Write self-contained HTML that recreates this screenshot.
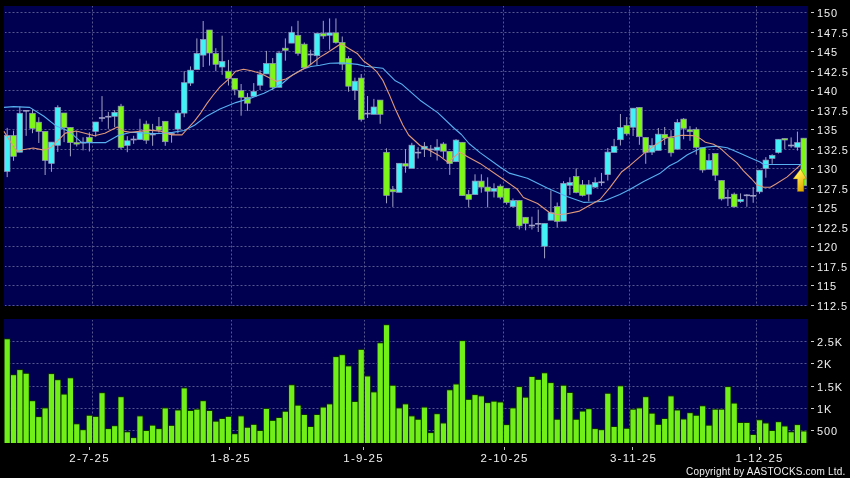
<!DOCTYPE html>
<html><head><meta charset="utf-8"><style>
html,body{margin:0;padding:0;background:#000;}
body{width:850px;height:478px;position:relative;overflow:hidden;font-family:"Liberation Sans",sans-serif;color:#f0f0f0;}
div{will-change:transform;}
svg{position:absolute;left:0;top:0;}
.yl{position:absolute;left:817px;font-size:11px;line-height:14px;white-space:nowrap;letter-spacing:0.85px;}
.xl{position:absolute;top:451px;width:80px;text-align:center;font-size:11.5px;line-height:14px;letter-spacing:1.2px;text-indent:1.2px;}
.cp{position:absolute;left:686px;top:465px;font-size:10px;line-height:14px;white-space:nowrap;letter-spacing:0.19px;}
</style></head><body>
<svg width="850" height="478" viewBox="0 0 850 478">
<rect x="4" y="6" width="804" height="300" fill="#000050"/>
<rect x="4" y="319" width="804" height="124" fill="#000050"/>
<line x1="5" y1="12.50" x2="808" y2="12.50" stroke="#56568f" stroke-width="1" stroke-dasharray="2 2" stroke-dashoffset="0.5"/>
<line x1="5" y1="32.50" x2="808" y2="32.50" stroke="#56568f" stroke-width="1" stroke-dasharray="2 2" stroke-dashoffset="0.5"/>
<line x1="5" y1="51.50" x2="808" y2="51.50" stroke="#56568f" stroke-width="1" stroke-dasharray="2 2" stroke-dashoffset="0.5"/>
<line x1="5" y1="71.50" x2="808" y2="71.50" stroke="#56568f" stroke-width="1" stroke-dasharray="2 2" stroke-dashoffset="0.5"/>
<line x1="5" y1="90.50" x2="808" y2="90.50" stroke="#56568f" stroke-width="1" stroke-dasharray="2 2" stroke-dashoffset="0.5"/>
<line x1="5" y1="110.50" x2="808" y2="110.50" stroke="#56568f" stroke-width="1" stroke-dasharray="2 2" stroke-dashoffset="0.5"/>
<line x1="5" y1="129.50" x2="808" y2="129.50" stroke="#56568f" stroke-width="1" stroke-dasharray="2 2" stroke-dashoffset="0.5"/>
<line x1="5" y1="149.50" x2="808" y2="149.50" stroke="#56568f" stroke-width="1" stroke-dasharray="2 2" stroke-dashoffset="0.5"/>
<line x1="5" y1="168.50" x2="808" y2="168.50" stroke="#56568f" stroke-width="1" stroke-dasharray="2 2" stroke-dashoffset="0.5"/>
<line x1="5" y1="188.50" x2="808" y2="188.50" stroke="#56568f" stroke-width="1" stroke-dasharray="2 2" stroke-dashoffset="0.5"/>
<line x1="5" y1="207.50" x2="808" y2="207.50" stroke="#56568f" stroke-width="1" stroke-dasharray="2 2" stroke-dashoffset="0.5"/>
<line x1="5" y1="227.50" x2="808" y2="227.50" stroke="#56568f" stroke-width="1" stroke-dasharray="2 2" stroke-dashoffset="0.5"/>
<line x1="5" y1="246.50" x2="808" y2="246.50" stroke="#56568f" stroke-width="1" stroke-dasharray="2 2" stroke-dashoffset="0.5"/>
<line x1="5" y1="266.50" x2="808" y2="266.50" stroke="#56568f" stroke-width="1" stroke-dasharray="2 2" stroke-dashoffset="0.5"/>
<line x1="5" y1="285.50" x2="808" y2="285.50" stroke="#56568f" stroke-width="1" stroke-dasharray="2 2" stroke-dashoffset="0.5"/>
<line x1="5" y1="305.50" x2="808" y2="305.50" stroke="#56568f" stroke-width="1" stroke-dasharray="2 2" stroke-dashoffset="0.5"/>
<line x1="92.5" y1="6" x2="92.5" y2="306" stroke="#56568f" stroke-width="1" stroke-dasharray="2 2" stroke-dashoffset="0.5"/>
<line x1="92.5" y1="320" x2="92.5" y2="443" stroke="#56568f" stroke-width="1" stroke-dasharray="2 2" stroke-dashoffset="0.5"/>
<line x1="231.5" y1="6" x2="231.5" y2="306" stroke="#56568f" stroke-width="1" stroke-dasharray="2 2" stroke-dashoffset="0.5"/>
<line x1="231.5" y1="320" x2="231.5" y2="443" stroke="#56568f" stroke-width="1" stroke-dasharray="2 2" stroke-dashoffset="0.5"/>
<line x1="364.5" y1="6" x2="364.5" y2="306" stroke="#56568f" stroke-width="1" stroke-dasharray="2 2" stroke-dashoffset="0.5"/>
<line x1="364.5" y1="320" x2="364.5" y2="443" stroke="#56568f" stroke-width="1" stroke-dasharray="2 2" stroke-dashoffset="0.5"/>
<line x1="503.5" y1="6" x2="503.5" y2="306" stroke="#56568f" stroke-width="1" stroke-dasharray="2 2" stroke-dashoffset="0.5"/>
<line x1="503.5" y1="320" x2="503.5" y2="443" stroke="#56568f" stroke-width="1" stroke-dasharray="2 2" stroke-dashoffset="0.5"/>
<line x1="629.5" y1="6" x2="629.5" y2="306" stroke="#56568f" stroke-width="1" stroke-dasharray="2 2" stroke-dashoffset="0.5"/>
<line x1="629.5" y1="320" x2="629.5" y2="443" stroke="#56568f" stroke-width="1" stroke-dasharray="2 2" stroke-dashoffset="0.5"/>
<line x1="756.5" y1="6" x2="756.5" y2="306" stroke="#56568f" stroke-width="1" stroke-dasharray="2 2" stroke-dashoffset="0.5"/>
<line x1="756.5" y1="320" x2="756.5" y2="443" stroke="#56568f" stroke-width="1" stroke-dasharray="2 2" stroke-dashoffset="0.5"/>
<line x1="5" y1="341.50" x2="808" y2="341.50" stroke="#56568f" stroke-width="1" stroke-dasharray="2 2" stroke-dashoffset="0.5"/>
<line x1="5" y1="363.50" x2="808" y2="363.50" stroke="#56568f" stroke-width="1" stroke-dasharray="2 2" stroke-dashoffset="0.5"/>
<line x1="5" y1="386.50" x2="808" y2="386.50" stroke="#56568f" stroke-width="1" stroke-dasharray="2 2" stroke-dashoffset="0.5"/>
<line x1="5" y1="408.50" x2="808" y2="408.50" stroke="#56568f" stroke-width="1" stroke-dasharray="2 2" stroke-dashoffset="0.5"/>
<line x1="5" y1="430.50" x2="808" y2="430.50" stroke="#56568f" stroke-width="1" stroke-dasharray="2 2" stroke-dashoffset="0.5"/>
<rect x="4.04" y="338.30" width="6.32" height="104.70" fill="#0c2a04"/>
<rect x="4.60" y="339.30" width="5.2" height="103.70" fill="#70f018"/>
<rect x="10.36" y="374.20" width="6.32" height="68.80" fill="#0c2a04"/>
<rect x="10.92" y="375.20" width="5.2" height="67.80" fill="#70f018"/>
<rect x="16.68" y="369.10" width="6.32" height="73.90" fill="#0c2a04"/>
<rect x="17.24" y="370.10" width="5.2" height="72.90" fill="#70f018"/>
<rect x="23.01" y="372.80" width="6.32" height="70.20" fill="#0c2a04"/>
<rect x="23.57" y="373.80" width="5.2" height="69.20" fill="#70f018"/>
<rect x="29.33" y="400.20" width="6.32" height="42.80" fill="#0c2a04"/>
<rect x="29.89" y="401.20" width="5.2" height="41.80" fill="#70f018"/>
<rect x="35.65" y="416.10" width="6.32" height="26.90" fill="#0c2a04"/>
<rect x="36.21" y="417.10" width="5.2" height="25.90" fill="#70f018"/>
<rect x="41.97" y="407.40" width="6.32" height="35.60" fill="#0c2a04"/>
<rect x="42.53" y="408.40" width="5.2" height="34.60" fill="#70f018"/>
<rect x="48.29" y="373.10" width="6.32" height="69.90" fill="#0c2a04"/>
<rect x="48.85" y="374.10" width="5.2" height="68.90" fill="#70f018"/>
<rect x="54.62" y="379.20" width="6.32" height="63.80" fill="#0c2a04"/>
<rect x="55.18" y="380.20" width="5.2" height="62.80" fill="#70f018"/>
<rect x="60.94" y="393.60" width="6.32" height="49.40" fill="#0c2a04"/>
<rect x="61.50" y="394.60" width="5.2" height="48.40" fill="#70f018"/>
<rect x="67.26" y="377.30" width="6.32" height="65.70" fill="#0c2a04"/>
<rect x="67.82" y="378.30" width="5.2" height="64.70" fill="#70f018"/>
<rect x="73.58" y="423.30" width="6.32" height="19.70" fill="#0c2a04"/>
<rect x="74.14" y="424.30" width="5.2" height="18.70" fill="#70f018"/>
<rect x="79.90" y="429.20" width="6.32" height="13.80" fill="#0c2a04"/>
<rect x="80.46" y="430.20" width="5.2" height="12.80" fill="#70f018"/>
<rect x="86.23" y="414.80" width="6.32" height="28.20" fill="#0c2a04"/>
<rect x="86.79" y="415.80" width="5.2" height="27.20" fill="#70f018"/>
<rect x="92.55" y="415.90" width="6.32" height="27.10" fill="#0c2a04"/>
<rect x="93.11" y="416.90" width="5.2" height="26.10" fill="#70f018"/>
<rect x="98.87" y="392.20" width="6.32" height="50.80" fill="#0c2a04"/>
<rect x="99.43" y="393.20" width="5.2" height="49.80" fill="#70f018"/>
<rect x="105.19" y="428.10" width="6.32" height="14.90" fill="#0c2a04"/>
<rect x="105.75" y="429.10" width="5.2" height="13.90" fill="#70f018"/>
<rect x="111.51" y="425.20" width="6.32" height="17.80" fill="#0c2a04"/>
<rect x="112.07" y="426.20" width="5.2" height="16.80" fill="#70f018"/>
<rect x="117.84" y="396.20" width="6.32" height="46.80" fill="#0c2a04"/>
<rect x="118.40" y="397.20" width="5.2" height="45.80" fill="#70f018"/>
<rect x="124.16" y="431.30" width="6.32" height="11.70" fill="#0c2a04"/>
<rect x="124.72" y="432.30" width="5.2" height="10.70" fill="#70f018"/>
<rect x="130.48" y="437.10" width="6.32" height="5.90" fill="#0c2a04"/>
<rect x="131.04" y="438.10" width="5.2" height="4.90" fill="#70f018"/>
<rect x="136.80" y="415.40" width="6.32" height="27.60" fill="#0c2a04"/>
<rect x="137.36" y="416.40" width="5.2" height="26.60" fill="#70f018"/>
<rect x="143.12" y="430.00" width="6.32" height="13.00" fill="#0c2a04"/>
<rect x="143.68" y="431.00" width="5.2" height="12.00" fill="#70f018"/>
<rect x="149.45" y="424.70" width="6.32" height="18.30" fill="#0c2a04"/>
<rect x="150.01" y="425.70" width="5.2" height="17.30" fill="#70f018"/>
<rect x="155.77" y="428.10" width="6.32" height="14.90" fill="#0c2a04"/>
<rect x="156.33" y="429.10" width="5.2" height="13.90" fill="#70f018"/>
<rect x="162.09" y="407.40" width="6.32" height="35.60" fill="#0c2a04"/>
<rect x="162.65" y="408.40" width="5.2" height="34.60" fill="#70f018"/>
<rect x="168.41" y="424.90" width="6.32" height="18.10" fill="#0c2a04"/>
<rect x="168.97" y="425.90" width="5.2" height="17.10" fill="#70f018"/>
<rect x="174.73" y="409.50" width="6.32" height="33.50" fill="#0c2a04"/>
<rect x="175.29" y="410.50" width="5.2" height="32.50" fill="#70f018"/>
<rect x="181.06" y="387.40" width="6.32" height="55.60" fill="#0c2a04"/>
<rect x="181.62" y="388.40" width="5.2" height="54.60" fill="#70f018"/>
<rect x="187.38" y="410.00" width="6.32" height="33.00" fill="#0c2a04"/>
<rect x="187.94" y="411.00" width="5.2" height="32.00" fill="#70f018"/>
<rect x="193.70" y="408.70" width="6.32" height="34.30" fill="#0c2a04"/>
<rect x="194.26" y="409.70" width="5.2" height="33.30" fill="#70f018"/>
<rect x="200.02" y="400.20" width="6.32" height="42.80" fill="#0c2a04"/>
<rect x="200.58" y="401.20" width="5.2" height="41.80" fill="#70f018"/>
<rect x="206.34" y="410.00" width="6.32" height="33.00" fill="#0c2a04"/>
<rect x="206.90" y="411.00" width="5.2" height="32.00" fill="#70f018"/>
<rect x="212.67" y="420.70" width="6.32" height="22.30" fill="#0c2a04"/>
<rect x="213.23" y="421.70" width="5.2" height="21.30" fill="#70f018"/>
<rect x="218.99" y="418.00" width="6.32" height="25.00" fill="#0c2a04"/>
<rect x="219.55" y="419.00" width="5.2" height="24.00" fill="#70f018"/>
<rect x="225.31" y="415.90" width="6.32" height="27.10" fill="#0c2a04"/>
<rect x="225.87" y="416.90" width="5.2" height="26.10" fill="#70f018"/>
<rect x="231.63" y="433.20" width="6.32" height="9.80" fill="#0c2a04"/>
<rect x="232.19" y="434.20" width="5.2" height="8.80" fill="#70f018"/>
<rect x="237.95" y="415.40" width="6.32" height="27.60" fill="#0c2a04"/>
<rect x="238.51" y="416.40" width="5.2" height="26.60" fill="#70f018"/>
<rect x="244.28" y="426.80" width="6.32" height="16.20" fill="#0c2a04"/>
<rect x="244.84" y="427.80" width="5.2" height="15.20" fill="#70f018"/>
<rect x="250.60" y="423.90" width="6.32" height="19.10" fill="#0c2a04"/>
<rect x="251.16" y="424.90" width="5.2" height="18.10" fill="#70f018"/>
<rect x="256.92" y="430.00" width="6.32" height="13.00" fill="#0c2a04"/>
<rect x="257.48" y="431.00" width="5.2" height="12.00" fill="#70f018"/>
<rect x="263.24" y="407.90" width="6.32" height="35.10" fill="#0c2a04"/>
<rect x="263.80" y="408.90" width="5.2" height="34.10" fill="#70f018"/>
<rect x="269.56" y="419.90" width="6.32" height="23.10" fill="#0c2a04"/>
<rect x="270.12" y="420.90" width="5.2" height="22.10" fill="#70f018"/>
<rect x="275.89" y="417.00" width="6.32" height="26.00" fill="#0c2a04"/>
<rect x="276.45" y="418.00" width="5.2" height="25.00" fill="#70f018"/>
<rect x="282.21" y="410.80" width="6.32" height="32.20" fill="#0c2a04"/>
<rect x="282.77" y="411.80" width="5.2" height="31.20" fill="#70f018"/>
<rect x="288.53" y="384.30" width="6.32" height="58.70" fill="#0c2a04"/>
<rect x="289.09" y="385.30" width="5.2" height="57.70" fill="#70f018"/>
<rect x="294.85" y="404.70" width="6.32" height="38.30" fill="#0c2a04"/>
<rect x="295.41" y="405.70" width="5.2" height="37.30" fill="#70f018"/>
<rect x="301.17" y="414.00" width="6.32" height="29.00" fill="#0c2a04"/>
<rect x="301.73" y="415.00" width="5.2" height="28.00" fill="#70f018"/>
<rect x="307.50" y="426.00" width="6.32" height="17.00" fill="#0c2a04"/>
<rect x="308.06" y="427.00" width="5.2" height="16.00" fill="#70f018"/>
<rect x="313.82" y="414.00" width="6.32" height="29.00" fill="#0c2a04"/>
<rect x="314.38" y="415.00" width="5.2" height="28.00" fill="#70f018"/>
<rect x="320.14" y="406.60" width="6.32" height="36.40" fill="#0c2a04"/>
<rect x="320.70" y="407.60" width="5.2" height="35.40" fill="#70f018"/>
<rect x="326.46" y="403.40" width="6.32" height="39.60" fill="#0c2a04"/>
<rect x="327.02" y="404.40" width="5.2" height="38.60" fill="#70f018"/>
<rect x="332.78" y="356.10" width="6.32" height="86.90" fill="#0c2a04"/>
<rect x="333.34" y="357.10" width="5.2" height="85.90" fill="#70f018"/>
<rect x="339.11" y="354.20" width="6.32" height="88.80" fill="#0c2a04"/>
<rect x="339.67" y="355.20" width="5.2" height="87.80" fill="#70f018"/>
<rect x="345.43" y="365.40" width="6.32" height="77.60" fill="#0c2a04"/>
<rect x="345.99" y="366.40" width="5.2" height="76.60" fill="#70f018"/>
<rect x="351.75" y="401.00" width="6.32" height="42.00" fill="#0c2a04"/>
<rect x="352.31" y="402.00" width="5.2" height="41.00" fill="#70f018"/>
<rect x="358.07" y="348.90" width="6.32" height="94.10" fill="#0c2a04"/>
<rect x="358.63" y="349.90" width="5.2" height="93.10" fill="#70f018"/>
<rect x="364.39" y="375.50" width="6.32" height="67.50" fill="#0c2a04"/>
<rect x="364.95" y="376.50" width="5.2" height="66.50" fill="#70f018"/>
<rect x="370.72" y="391.40" width="6.32" height="51.60" fill="#0c2a04"/>
<rect x="371.28" y="392.40" width="5.2" height="50.60" fill="#70f018"/>
<rect x="377.04" y="342.30" width="6.32" height="100.70" fill="#0c2a04"/>
<rect x="377.60" y="343.30" width="5.2" height="99.70" fill="#70f018"/>
<rect x="383.36" y="324.20" width="6.32" height="118.80" fill="#0c2a04"/>
<rect x="383.92" y="325.20" width="5.2" height="117.80" fill="#70f018"/>
<rect x="389.68" y="384.80" width="6.32" height="58.20" fill="#0c2a04"/>
<rect x="390.24" y="385.80" width="5.2" height="57.20" fill="#70f018"/>
<rect x="396.00" y="407.40" width="6.32" height="35.60" fill="#0c2a04"/>
<rect x="396.56" y="408.40" width="5.2" height="34.60" fill="#70f018"/>
<rect x="402.33" y="403.40" width="6.32" height="39.60" fill="#0c2a04"/>
<rect x="402.89" y="404.40" width="5.2" height="38.60" fill="#70f018"/>
<rect x="408.65" y="415.40" width="6.32" height="27.60" fill="#0c2a04"/>
<rect x="409.21" y="416.40" width="5.2" height="26.60" fill="#70f018"/>
<rect x="414.97" y="418.80" width="6.32" height="24.20" fill="#0c2a04"/>
<rect x="415.53" y="419.80" width="5.2" height="23.20" fill="#70f018"/>
<rect x="421.29" y="406.60" width="6.32" height="36.40" fill="#0c2a04"/>
<rect x="421.85" y="407.60" width="5.2" height="35.40" fill="#70f018"/>
<rect x="427.61" y="432.10" width="6.32" height="10.90" fill="#0c2a04"/>
<rect x="428.17" y="433.10" width="5.2" height="9.90" fill="#70f018"/>
<rect x="433.94" y="413.20" width="6.32" height="29.80" fill="#0c2a04"/>
<rect x="434.50" y="414.20" width="5.2" height="28.80" fill="#70f018"/>
<rect x="440.26" y="422.50" width="6.32" height="20.50" fill="#0c2a04"/>
<rect x="440.82" y="423.50" width="5.2" height="19.50" fill="#70f018"/>
<rect x="446.58" y="389.30" width="6.32" height="53.70" fill="#0c2a04"/>
<rect x="447.14" y="390.30" width="5.2" height="52.70" fill="#70f018"/>
<rect x="452.90" y="383.50" width="6.32" height="59.50" fill="#0c2a04"/>
<rect x="453.46" y="384.50" width="5.2" height="58.50" fill="#70f018"/>
<rect x="459.22" y="340.10" width="6.32" height="102.90" fill="#0c2a04"/>
<rect x="459.78" y="341.10" width="5.2" height="101.90" fill="#70f018"/>
<rect x="465.55" y="398.90" width="6.32" height="44.10" fill="#0c2a04"/>
<rect x="466.11" y="399.90" width="5.2" height="43.10" fill="#70f018"/>
<rect x="471.87" y="394.10" width="6.32" height="48.90" fill="#0c2a04"/>
<rect x="472.43" y="395.10" width="5.2" height="47.90" fill="#70f018"/>
<rect x="478.19" y="395.40" width="6.32" height="47.60" fill="#0c2a04"/>
<rect x="478.75" y="396.40" width="5.2" height="46.60" fill="#70f018"/>
<rect x="484.51" y="402.10" width="6.32" height="40.90" fill="#0c2a04"/>
<rect x="485.07" y="403.10" width="5.2" height="39.90" fill="#70f018"/>
<rect x="490.83" y="400.70" width="6.32" height="42.30" fill="#0c2a04"/>
<rect x="491.39" y="401.70" width="5.2" height="41.30" fill="#70f018"/>
<rect x="497.16" y="401.50" width="6.32" height="41.50" fill="#0c2a04"/>
<rect x="497.72" y="402.50" width="5.2" height="40.50" fill="#70f018"/>
<rect x="503.48" y="424.10" width="6.32" height="18.90" fill="#0c2a04"/>
<rect x="504.04" y="425.10" width="5.2" height="17.90" fill="#70f018"/>
<rect x="509.80" y="407.40" width="6.32" height="35.60" fill="#0c2a04"/>
<rect x="510.36" y="408.40" width="5.2" height="34.60" fill="#70f018"/>
<rect x="516.12" y="386.10" width="6.32" height="56.90" fill="#0c2a04"/>
<rect x="516.68" y="387.10" width="5.2" height="55.90" fill="#70f018"/>
<rect x="522.44" y="396.70" width="6.32" height="46.30" fill="#0c2a04"/>
<rect x="523.00" y="397.70" width="5.2" height="45.30" fill="#70f018"/>
<rect x="528.77" y="376.00" width="6.32" height="67.00" fill="#0c2a04"/>
<rect x="529.33" y="377.00" width="5.2" height="66.00" fill="#70f018"/>
<rect x="535.09" y="378.90" width="6.32" height="64.10" fill="#0c2a04"/>
<rect x="535.65" y="379.90" width="5.2" height="63.10" fill="#70f018"/>
<rect x="541.41" y="372.30" width="6.32" height="70.70" fill="#0c2a04"/>
<rect x="541.97" y="373.30" width="5.2" height="69.70" fill="#70f018"/>
<rect x="547.73" y="382.10" width="6.32" height="60.90" fill="#0c2a04"/>
<rect x="548.29" y="383.10" width="5.2" height="59.90" fill="#70f018"/>
<rect x="554.05" y="418.80" width="6.32" height="24.20" fill="#0c2a04"/>
<rect x="554.61" y="419.80" width="5.2" height="23.20" fill="#70f018"/>
<rect x="560.38" y="384.80" width="6.32" height="58.20" fill="#0c2a04"/>
<rect x="560.94" y="385.80" width="5.2" height="57.20" fill="#70f018"/>
<rect x="566.70" y="392.00" width="6.32" height="51.00" fill="#0c2a04"/>
<rect x="567.26" y="393.00" width="5.2" height="50.00" fill="#70f018"/>
<rect x="573.02" y="418.80" width="6.32" height="24.20" fill="#0c2a04"/>
<rect x="573.58" y="419.80" width="5.2" height="23.20" fill="#70f018"/>
<rect x="579.34" y="410.60" width="6.32" height="32.40" fill="#0c2a04"/>
<rect x="579.90" y="411.60" width="5.2" height="31.40" fill="#70f018"/>
<rect x="585.66" y="408.20" width="6.32" height="34.80" fill="#0c2a04"/>
<rect x="586.22" y="409.20" width="5.2" height="33.80" fill="#70f018"/>
<rect x="591.99" y="428.10" width="6.32" height="14.90" fill="#0c2a04"/>
<rect x="592.55" y="429.10" width="5.2" height="13.90" fill="#70f018"/>
<rect x="598.31" y="429.20" width="6.32" height="13.80" fill="#0c2a04"/>
<rect x="598.87" y="430.20" width="5.2" height="12.80" fill="#70f018"/>
<rect x="604.63" y="392.80" width="6.32" height="50.20" fill="#0c2a04"/>
<rect x="605.19" y="393.80" width="5.2" height="49.20" fill="#70f018"/>
<rect x="610.95" y="426.00" width="6.32" height="17.00" fill="#0c2a04"/>
<rect x="611.51" y="427.00" width="5.2" height="16.00" fill="#70f018"/>
<rect x="617.27" y="385.30" width="6.32" height="57.70" fill="#0c2a04"/>
<rect x="617.83" y="386.30" width="5.2" height="56.70" fill="#70f018"/>
<rect x="623.60" y="427.80" width="6.32" height="15.20" fill="#0c2a04"/>
<rect x="624.16" y="428.80" width="5.2" height="14.20" fill="#70f018"/>
<rect x="629.92" y="408.70" width="6.32" height="34.30" fill="#0c2a04"/>
<rect x="630.48" y="409.70" width="5.2" height="33.30" fill="#70f018"/>
<rect x="636.24" y="407.40" width="6.32" height="35.60" fill="#0c2a04"/>
<rect x="636.80" y="408.40" width="5.2" height="34.60" fill="#70f018"/>
<rect x="642.56" y="396.20" width="6.32" height="46.80" fill="#0c2a04"/>
<rect x="643.12" y="397.20" width="5.2" height="45.80" fill="#70f018"/>
<rect x="648.88" y="412.70" width="6.32" height="30.30" fill="#0c2a04"/>
<rect x="649.44" y="413.70" width="5.2" height="29.30" fill="#70f018"/>
<rect x="655.21" y="423.90" width="6.32" height="19.10" fill="#0c2a04"/>
<rect x="655.77" y="424.90" width="5.2" height="18.10" fill="#70f018"/>
<rect x="661.53" y="418.00" width="6.32" height="25.00" fill="#0c2a04"/>
<rect x="662.09" y="419.00" width="5.2" height="24.00" fill="#70f018"/>
<rect x="667.85" y="395.40" width="6.32" height="47.60" fill="#0c2a04"/>
<rect x="668.41" y="396.40" width="5.2" height="46.60" fill="#70f018"/>
<rect x="674.17" y="409.50" width="6.32" height="33.50" fill="#0c2a04"/>
<rect x="674.73" y="410.50" width="5.2" height="32.50" fill="#70f018"/>
<rect x="680.49" y="418.50" width="6.32" height="24.50" fill="#0c2a04"/>
<rect x="681.05" y="419.50" width="5.2" height="23.50" fill="#70f018"/>
<rect x="686.82" y="412.20" width="6.32" height="30.80" fill="#0c2a04"/>
<rect x="687.38" y="413.20" width="5.2" height="29.80" fill="#70f018"/>
<rect x="693.14" y="414.80" width="6.32" height="28.20" fill="#0c2a04"/>
<rect x="693.70" y="415.80" width="5.2" height="27.20" fill="#70f018"/>
<rect x="699.46" y="405.30" width="6.32" height="37.70" fill="#0c2a04"/>
<rect x="700.02" y="406.30" width="5.2" height="36.70" fill="#70f018"/>
<rect x="705.78" y="424.70" width="6.32" height="18.30" fill="#0c2a04"/>
<rect x="706.34" y="425.70" width="5.2" height="17.30" fill="#70f018"/>
<rect x="712.10" y="408.70" width="6.32" height="34.30" fill="#0c2a04"/>
<rect x="712.66" y="409.70" width="5.2" height="33.30" fill="#70f018"/>
<rect x="718.43" y="408.70" width="6.32" height="34.30" fill="#0c2a04"/>
<rect x="718.99" y="409.70" width="5.2" height="33.30" fill="#70f018"/>
<rect x="724.75" y="386.10" width="6.32" height="56.90" fill="#0c2a04"/>
<rect x="725.31" y="387.10" width="5.2" height="55.90" fill="#70f018"/>
<rect x="731.07" y="402.60" width="6.32" height="40.40" fill="#0c2a04"/>
<rect x="731.63" y="403.60" width="5.2" height="39.40" fill="#70f018"/>
<rect x="737.39" y="422.00" width="6.32" height="21.00" fill="#0c2a04"/>
<rect x="737.95" y="423.00" width="5.2" height="20.00" fill="#70f018"/>
<rect x="743.71" y="422.00" width="6.32" height="21.00" fill="#0c2a04"/>
<rect x="744.27" y="423.00" width="5.2" height="20.00" fill="#70f018"/>
<rect x="750.04" y="434.00" width="6.32" height="9.00" fill="#0c2a04"/>
<rect x="750.60" y="435.00" width="5.2" height="8.00" fill="#70f018"/>
<rect x="756.36" y="419.30" width="6.32" height="23.70" fill="#0c2a04"/>
<rect x="756.92" y="420.30" width="5.2" height="22.70" fill="#70f018"/>
<rect x="762.68" y="422.50" width="6.32" height="20.50" fill="#0c2a04"/>
<rect x="763.24" y="423.50" width="5.2" height="19.50" fill="#70f018"/>
<rect x="769.00" y="430.00" width="6.32" height="13.00" fill="#0c2a04"/>
<rect x="769.56" y="431.00" width="5.2" height="12.00" fill="#70f018"/>
<rect x="775.32" y="421.20" width="6.32" height="21.80" fill="#0c2a04"/>
<rect x="775.88" y="422.20" width="5.2" height="20.80" fill="#70f018"/>
<rect x="781.65" y="425.50" width="6.32" height="17.50" fill="#0c2a04"/>
<rect x="782.21" y="426.50" width="5.2" height="16.50" fill="#70f018"/>
<rect x="787.97" y="431.30" width="6.32" height="11.70" fill="#0c2a04"/>
<rect x="788.53" y="432.30" width="5.2" height="10.70" fill="#70f018"/>
<rect x="794.29" y="424.10" width="6.32" height="18.90" fill="#0c2a04"/>
<rect x="794.85" y="425.10" width="5.2" height="17.90" fill="#70f018"/>
<rect x="800.61" y="430.50" width="6.32" height="12.50" fill="#0c2a04"/>
<rect x="801.17" y="431.50" width="5.2" height="11.50" fill="#70f018"/>
<line x1="7.20" y1="127.90" x2="7.20" y2="177.10" stroke="#a0a0c4" stroke-width="1"/>
<rect x="4.40" y="135.50" width="5.6" height="35.90" fill="#40f2f6" stroke="#9494bc" stroke-width="0.7"/>
<line x1="13.52" y1="130.60" x2="13.52" y2="160.80" stroke="#a0a0c4" stroke-width="1"/>
<rect x="10.72" y="135.50" width="5.6" height="20.80" fill="#7cf814" stroke="#9494bc" stroke-width="0.7"/>
<line x1="19.84" y1="106.60" x2="19.84" y2="152.20" stroke="#a0a0c4" stroke-width="1"/>
<rect x="17.04" y="113.30" width="5.6" height="38.90" fill="#40f2f6" stroke="#9494bc" stroke-width="0.7"/>
<line x1="26.17" y1="110.10" x2="26.17" y2="135.90" stroke="#a0a0c4" stroke-width="1"/>
<line x1="23.07" y1="110.80" x2="29.27" y2="110.80" stroke="#a0a0c4" stroke-width="1.6"/>
<line x1="32.49" y1="109.20" x2="32.49" y2="133.20" stroke="#a0a0c4" stroke-width="1"/>
<rect x="29.69" y="113.30" width="5.6" height="15.10" fill="#7cf814" stroke="#9494bc" stroke-width="0.7"/>
<line x1="38.81" y1="117.20" x2="38.81" y2="143.00" stroke="#a0a0c4" stroke-width="1"/>
<rect x="36.01" y="122.20" width="5.6" height="9.20" fill="#7cf814" stroke="#9494bc" stroke-width="0.7"/>
<line x1="45.13" y1="131.40" x2="45.13" y2="175.00" stroke="#a0a0c4" stroke-width="1"/>
<rect x="42.33" y="131.40" width="5.6" height="29.00" fill="#7cf814" stroke="#9494bc" stroke-width="0.7"/>
<line x1="51.45" y1="142.10" x2="51.45" y2="171.80" stroke="#a0a0c4" stroke-width="1"/>
<rect x="48.65" y="142.10" width="5.6" height="21.30" fill="#40f2f6" stroke="#9494bc" stroke-width="0.7"/>
<line x1="57.78" y1="105.30" x2="57.78" y2="151.90" stroke="#a0a0c4" stroke-width="1"/>
<rect x="54.98" y="107.40" width="5.6" height="37.90" fill="#40f2f6" stroke="#9494bc" stroke-width="0.7"/>
<line x1="64.10" y1="113.00" x2="64.10" y2="142.10" stroke="#a0a0c4" stroke-width="1"/>
<rect x="61.30" y="113.00" width="5.6" height="14.70" fill="#7cf814" stroke="#9494bc" stroke-width="0.7"/>
<line x1="70.42" y1="127.50" x2="70.42" y2="156.30" stroke="#a0a0c4" stroke-width="1"/>
<rect x="67.62" y="127.50" width="5.6" height="15.10" fill="#7cf814" stroke="#9494bc" stroke-width="0.7"/>
<line x1="76.74" y1="131.00" x2="76.74" y2="146.50" stroke="#a0a0c4" stroke-width="1"/>
<rect x="73.94" y="142.60" width="5.6" height="1.50" fill="#7cf814" stroke="#9494bc" stroke-width="0.7"/>
<line x1="83.06" y1="137.30" x2="83.06" y2="150.40" stroke="#a0a0c4" stroke-width="1"/>
<line x1="79.96" y1="142.60" x2="86.16" y2="142.60" stroke="#a0a0c4" stroke-width="1.6"/>
<line x1="89.39" y1="132.30" x2="89.39" y2="151.50" stroke="#a0a0c4" stroke-width="1"/>
<rect x="86.59" y="137.30" width="5.6" height="4.80" fill="#7cf814" stroke="#9494bc" stroke-width="0.7"/>
<line x1="95.71" y1="122.00" x2="95.71" y2="136.80" stroke="#a0a0c4" stroke-width="1"/>
<rect x="92.91" y="122.00" width="5.6" height="9.40" fill="#40f2f6" stroke="#9494bc" stroke-width="0.7"/>
<line x1="102.03" y1="96.10" x2="102.03" y2="121.70" stroke="#a0a0c4" stroke-width="1"/>
<line x1="98.93" y1="118.00" x2="105.13" y2="118.00" stroke="#a0a0c4" stroke-width="1.6"/>
<line x1="108.35" y1="111.90" x2="108.35" y2="128.80" stroke="#a0a0c4" stroke-width="1"/>
<line x1="105.25" y1="116.70" x2="111.45" y2="116.70" stroke="#a0a0c4" stroke-width="1.6"/>
<line x1="114.67" y1="110.10" x2="114.67" y2="127.00" stroke="#a0a0c4" stroke-width="1"/>
<rect x="111.87" y="112.40" width="5.6" height="3.90" fill="#40f2f6" stroke="#9494bc" stroke-width="0.7"/>
<line x1="121.00" y1="103.90" x2="121.00" y2="149.20" stroke="#a0a0c4" stroke-width="1"/>
<rect x="118.20" y="106.20" width="5.6" height="41.20" fill="#7cf814" stroke="#9494bc" stroke-width="0.7"/>
<line x1="127.32" y1="136.20" x2="127.32" y2="152.20" stroke="#a0a0c4" stroke-width="1"/>
<rect x="124.52" y="140.80" width="5.6" height="4.60" fill="#40f2f6" stroke="#9494bc" stroke-width="0.7"/>
<line x1="133.64" y1="135.80" x2="133.64" y2="143.90" stroke="#a0a0c4" stroke-width="1"/>
<line x1="130.54" y1="139.50" x2="136.74" y2="139.50" stroke="#a0a0c4" stroke-width="1.6"/>
<line x1="139.96" y1="118.80" x2="139.96" y2="139.50" stroke="#a0a0c4" stroke-width="1"/>
<rect x="137.16" y="132.00" width="5.6" height="7.50" fill="#40f2f6" stroke="#9494bc" stroke-width="0.7"/>
<line x1="146.28" y1="120.70" x2="146.28" y2="143.90" stroke="#a0a0c4" stroke-width="1"/>
<rect x="143.48" y="124.10" width="5.6" height="16.10" fill="#7cf814" stroke="#9494bc" stroke-width="0.7"/>
<line x1="152.61" y1="123.90" x2="152.61" y2="145.80" stroke="#a0a0c4" stroke-width="1"/>
<line x1="149.51" y1="134.50" x2="155.71" y2="134.50" stroke="#a0a0c4" stroke-width="1.6"/>
<line x1="158.93" y1="117.00" x2="158.93" y2="132.60" stroke="#a0a0c4" stroke-width="1"/>
<rect x="156.13" y="126.40" width="5.6" height="3.70" fill="#7cf814" stroke="#9494bc" stroke-width="0.7"/>
<line x1="165.25" y1="121.30" x2="165.25" y2="145.80" stroke="#a0a0c4" stroke-width="1"/>
<rect x="162.45" y="121.30" width="5.6" height="20.40" fill="#7cf814" stroke="#9494bc" stroke-width="0.7"/>
<line x1="171.57" y1="132.60" x2="171.57" y2="142.70" stroke="#a0a0c4" stroke-width="1"/>
<line x1="168.47" y1="133.90" x2="174.67" y2="133.90" stroke="#a0a0c4" stroke-width="1.6"/>
<line x1="177.89" y1="110.10" x2="177.89" y2="133.30" stroke="#a0a0c4" stroke-width="1"/>
<rect x="175.09" y="113.10" width="5.6" height="16.00" fill="#40f2f6" stroke="#9494bc" stroke-width="0.7"/>
<line x1="184.22" y1="71.20" x2="184.22" y2="117.20" stroke="#a0a0c4" stroke-width="1"/>
<rect x="181.42" y="82.70" width="5.6" height="30.40" fill="#40f2f6" stroke="#9494bc" stroke-width="0.7"/>
<line x1="190.54" y1="66.40" x2="190.54" y2="85.90" stroke="#a0a0c4" stroke-width="1"/>
<rect x="187.74" y="70.20" width="5.6" height="12.90" fill="#40f2f6" stroke="#9494bc" stroke-width="0.7"/>
<line x1="196.86" y1="38.40" x2="196.86" y2="69.60" stroke="#a0a0c4" stroke-width="1"/>
<rect x="194.06" y="53.50" width="5.6" height="16.10" fill="#40f2f6" stroke="#9494bc" stroke-width="0.7"/>
<line x1="203.18" y1="21.00" x2="203.18" y2="67.00" stroke="#a0a0c4" stroke-width="1"/>
<rect x="200.38" y="39.40" width="5.6" height="15.70" fill="#40f2f6" stroke="#9494bc" stroke-width="0.7"/>
<line x1="209.50" y1="30.00" x2="209.50" y2="65.60" stroke="#a0a0c4" stroke-width="1"/>
<rect x="206.70" y="30.00" width="5.6" height="23.00" fill="#7cf814" stroke="#9494bc" stroke-width="0.7"/>
<line x1="215.83" y1="48.20" x2="215.83" y2="71.20" stroke="#a0a0c4" stroke-width="1"/>
<rect x="213.03" y="53.50" width="5.6" height="10.80" fill="#7cf814" stroke="#9494bc" stroke-width="0.7"/>
<line x1="222.15" y1="35.70" x2="222.15" y2="74.80" stroke="#a0a0c4" stroke-width="1"/>
<rect x="219.35" y="61.40" width="5.6" height="5.60" fill="#40f2f6" stroke="#9494bc" stroke-width="0.7"/>
<line x1="228.47" y1="59.90" x2="228.47" y2="85.50" stroke="#a0a0c4" stroke-width="1"/>
<rect x="225.67" y="71.20" width="5.6" height="7.10" fill="#7cf814" stroke="#9494bc" stroke-width="0.7"/>
<line x1="234.79" y1="78.50" x2="234.79" y2="95.20" stroke="#a0a0c4" stroke-width="1"/>
<rect x="231.99" y="78.50" width="5.6" height="10.90" fill="#7cf814" stroke="#9494bc" stroke-width="0.7"/>
<line x1="241.11" y1="84.00" x2="241.11" y2="115.70" stroke="#a0a0c4" stroke-width="1"/>
<rect x="238.31" y="90.60" width="5.6" height="6.70" fill="#7cf814" stroke="#9494bc" stroke-width="0.7"/>
<line x1="247.44" y1="93.10" x2="247.44" y2="110.90" stroke="#a0a0c4" stroke-width="1"/>
<rect x="244.64" y="97.30" width="5.6" height="5.90" fill="#7cf814" stroke="#9494bc" stroke-width="0.7"/>
<line x1="253.76" y1="83.10" x2="253.76" y2="96.30" stroke="#a0a0c4" stroke-width="1"/>
<rect x="250.96" y="91.50" width="5.6" height="4.80" fill="#40f2f6" stroke="#9494bc" stroke-width="0.7"/>
<line x1="260.08" y1="70.10" x2="260.08" y2="90.00" stroke="#a0a0c4" stroke-width="1"/>
<rect x="257.28" y="74.70" width="5.6" height="10.50" fill="#40f2f6" stroke="#9494bc" stroke-width="0.7"/>
<line x1="266.40" y1="50.90" x2="266.40" y2="73.90" stroke="#a0a0c4" stroke-width="1"/>
<rect x="263.60" y="63.50" width="5.6" height="10.40" fill="#40f2f6" stroke="#9494bc" stroke-width="0.7"/>
<line x1="272.72" y1="58.00" x2="272.72" y2="90.00" stroke="#a0a0c4" stroke-width="1"/>
<rect x="269.92" y="63.50" width="5.6" height="23.80" fill="#7cf814" stroke="#9494bc" stroke-width="0.7"/>
<line x1="279.05" y1="50.90" x2="279.05" y2="87.30" stroke="#a0a0c4" stroke-width="1"/>
<rect x="276.25" y="53.00" width="5.6" height="34.30" fill="#40f2f6" stroke="#9494bc" stroke-width="0.7"/>
<line x1="285.37" y1="38.40" x2="285.37" y2="60.70" stroke="#a0a0c4" stroke-width="1"/>
<rect x="282.57" y="48.20" width="5.6" height="2.10" fill="#7cf814" stroke="#9494bc" stroke-width="0.7"/>
<line x1="291.69" y1="26.30" x2="291.69" y2="43.10" stroke="#a0a0c4" stroke-width="1"/>
<rect x="288.89" y="32.30" width="5.6" height="10.80" fill="#40f2f6" stroke="#9494bc" stroke-width="0.7"/>
<line x1="298.01" y1="20.80" x2="298.01" y2="55.70" stroke="#a0a0c4" stroke-width="1"/>
<rect x="295.21" y="35.30" width="5.6" height="18.00" fill="#7cf814" stroke="#9494bc" stroke-width="0.7"/>
<line x1="304.33" y1="42.50" x2="304.33" y2="67.70" stroke="#a0a0c4" stroke-width="1"/>
<rect x="301.53" y="44.20" width="5.6" height="23.50" fill="#7cf814" stroke="#9494bc" stroke-width="0.7"/>
<line x1="310.66" y1="49.70" x2="310.66" y2="65.30" stroke="#a0a0c4" stroke-width="1"/>
<line x1="307.56" y1="54.50" x2="313.76" y2="54.50" stroke="#a0a0c4" stroke-width="1.6"/>
<line x1="316.98" y1="33.30" x2="316.98" y2="65.30" stroke="#a0a0c4" stroke-width="1"/>
<rect x="314.18" y="33.30" width="5.6" height="22.40" fill="#40f2f6" stroke="#9494bc" stroke-width="0.7"/>
<line x1="323.30" y1="20.80" x2="323.30" y2="38.90" stroke="#a0a0c4" stroke-width="1"/>
<rect x="320.50" y="33.60" width="5.6" height="2.40" fill="#7cf814" stroke="#9494bc" stroke-width="0.7"/>
<line x1="329.62" y1="18.40" x2="329.62" y2="49.70" stroke="#a0a0c4" stroke-width="1"/>
<rect x="326.82" y="32.90" width="5.6" height="2.40" fill="#40f2f6" stroke="#9494bc" stroke-width="0.7"/>
<line x1="335.94" y1="18.40" x2="335.94" y2="43.70" stroke="#a0a0c4" stroke-width="1"/>
<rect x="333.14" y="32.90" width="5.6" height="9.60" fill="#7cf814" stroke="#9494bc" stroke-width="0.7"/>
<line x1="342.27" y1="36.50" x2="342.27" y2="70.10" stroke="#a0a0c4" stroke-width="1"/>
<rect x="339.47" y="42.50" width="5.6" height="21.60" fill="#7cf814" stroke="#9494bc" stroke-width="0.7"/>
<line x1="348.59" y1="56.20" x2="348.59" y2="91.70" stroke="#a0a0c4" stroke-width="1"/>
<rect x="345.79" y="58.40" width="5.6" height="27.80" fill="#7cf814" stroke="#9494bc" stroke-width="0.7"/>
<line x1="354.91" y1="77.70" x2="354.91" y2="100.00" stroke="#a0a0c4" stroke-width="1"/>
<rect x="352.11" y="81.20" width="5.6" height="9.30" fill="#40f2f6" stroke="#9494bc" stroke-width="0.7"/>
<line x1="361.23" y1="74.00" x2="361.23" y2="121.60" stroke="#a0a0c4" stroke-width="1"/>
<rect x="358.43" y="78.10" width="5.6" height="41.30" fill="#7cf814" stroke="#9494bc" stroke-width="0.7"/>
<line x1="367.55" y1="96.00" x2="367.55" y2="118.00" stroke="#a0a0c4" stroke-width="1"/>
<line x1="364.45" y1="113.60" x2="370.65" y2="113.60" stroke="#a0a0c4" stroke-width="1.6"/>
<line x1="373.88" y1="98.90" x2="373.88" y2="114.30" stroke="#a0a0c4" stroke-width="1"/>
<rect x="371.08" y="107.00" width="5.6" height="7.30" fill="#40f2f6" stroke="#9494bc" stroke-width="0.7"/>
<line x1="380.20" y1="100.10" x2="380.20" y2="123.80" stroke="#a0a0c4" stroke-width="1"/>
<rect x="377.40" y="100.10" width="5.6" height="14.20" fill="#7cf814" stroke="#9494bc" stroke-width="0.7"/>
<line x1="386.52" y1="148.30" x2="386.52" y2="203.30" stroke="#a0a0c4" stroke-width="1"/>
<rect x="383.72" y="152.30" width="5.6" height="43.10" fill="#7cf814" stroke="#9494bc" stroke-width="0.7"/>
<line x1="392.84" y1="186.00" x2="392.84" y2="206.90" stroke="#a0a0c4" stroke-width="1"/>
<rect x="390.04" y="189.60" width="5.6" height="2.20" fill="#7cf814" stroke="#9494bc" stroke-width="0.7"/>
<line x1="399.16" y1="163.30" x2="399.16" y2="192.30" stroke="#a0a0c4" stroke-width="1"/>
<rect x="396.36" y="163.30" width="5.6" height="29.00" fill="#40f2f6" stroke="#9494bc" stroke-width="0.7"/>
<line x1="405.49" y1="149.10" x2="405.49" y2="172.70" stroke="#a0a0c4" stroke-width="1"/>
<rect x="402.69" y="163.70" width="5.6" height="2.40" fill="#7cf814" stroke="#9494bc" stroke-width="0.7"/>
<line x1="411.81" y1="142.80" x2="411.81" y2="168.30" stroke="#a0a0c4" stroke-width="1"/>
<rect x="409.01" y="145.20" width="5.6" height="23.10" fill="#40f2f6" stroke="#9494bc" stroke-width="0.7"/>
<line x1="418.13" y1="147.20" x2="418.13" y2="158.50" stroke="#a0a0c4" stroke-width="1"/>
<line x1="415.03" y1="152.60" x2="421.23" y2="152.60" stroke="#a0a0c4" stroke-width="1.6"/>
<line x1="424.45" y1="142.10" x2="424.45" y2="157.00" stroke="#a0a0c4" stroke-width="1"/>
<rect x="421.65" y="146.30" width="5.6" height="2.80" fill="#40f2f6" stroke="#9494bc" stroke-width="0.7"/>
<line x1="430.77" y1="145.00" x2="430.77" y2="157.00" stroke="#a0a0c4" stroke-width="1"/>
<line x1="427.67" y1="149.40" x2="433.87" y2="149.40" stroke="#a0a0c4" stroke-width="1.6"/>
<line x1="437.10" y1="139.20" x2="437.10" y2="160.50" stroke="#a0a0c4" stroke-width="1"/>
<rect x="434.30" y="147.20" width="5.6" height="3.00" fill="#40f2f6" stroke="#9494bc" stroke-width="0.7"/>
<line x1="443.42" y1="142.20" x2="443.42" y2="157.90" stroke="#a0a0c4" stroke-width="1"/>
<rect x="440.62" y="144.00" width="5.6" height="7.20" fill="#7cf814" stroke="#9494bc" stroke-width="0.7"/>
<line x1="449.74" y1="151.30" x2="449.74" y2="174.90" stroke="#a0a0c4" stroke-width="1"/>
<rect x="446.94" y="151.30" width="5.6" height="12.30" fill="#7cf814" stroke="#9494bc" stroke-width="0.7"/>
<line x1="456.06" y1="139.10" x2="456.06" y2="161.70" stroke="#a0a0c4" stroke-width="1"/>
<rect x="453.26" y="140.10" width="5.6" height="21.60" fill="#40f2f6" stroke="#9494bc" stroke-width="0.7"/>
<line x1="462.38" y1="142.30" x2="462.38" y2="195.60" stroke="#a0a0c4" stroke-width="1"/>
<rect x="459.58" y="142.30" width="5.6" height="53.30" fill="#7cf814" stroke="#9494bc" stroke-width="0.7"/>
<line x1="468.71" y1="190.00" x2="468.71" y2="207.40" stroke="#a0a0c4" stroke-width="1"/>
<rect x="465.91" y="194.30" width="5.6" height="5.00" fill="#7cf814" stroke="#9494bc" stroke-width="0.7"/>
<line x1="475.03" y1="174.30" x2="475.03" y2="194.60" stroke="#a0a0c4" stroke-width="1"/>
<rect x="472.23" y="181.10" width="5.6" height="13.50" fill="#40f2f6" stroke="#9494bc" stroke-width="0.7"/>
<line x1="481.35" y1="174.30" x2="481.35" y2="192.70" stroke="#a0a0c4" stroke-width="1"/>
<rect x="478.55" y="181.10" width="5.6" height="6.00" fill="#7cf814" stroke="#9494bc" stroke-width="0.7"/>
<line x1="487.67" y1="177.30" x2="487.67" y2="207.40" stroke="#a0a0c4" stroke-width="1"/>
<rect x="484.87" y="187.10" width="5.6" height="4.10" fill="#7cf814" stroke="#9494bc" stroke-width="0.7"/>
<line x1="493.99" y1="183.30" x2="493.99" y2="197.50" stroke="#a0a0c4" stroke-width="1"/>
<rect x="491.19" y="188.40" width="5.6" height="2.80" fill="#40f2f6" stroke="#9494bc" stroke-width="0.7"/>
<line x1="500.32" y1="184.30" x2="500.32" y2="199.40" stroke="#a0a0c4" stroke-width="1"/>
<rect x="497.52" y="186.20" width="5.6" height="11.00" fill="#7cf814" stroke="#9494bc" stroke-width="0.7"/>
<line x1="506.64" y1="188.30" x2="506.64" y2="204.60" stroke="#a0a0c4" stroke-width="1"/>
<rect x="503.84" y="188.30" width="5.6" height="14.20" fill="#7cf814" stroke="#9494bc" stroke-width="0.7"/>
<line x1="512.96" y1="198.50" x2="512.96" y2="207.60" stroke="#a0a0c4" stroke-width="1"/>
<rect x="510.16" y="200.50" width="5.6" height="6.10" fill="#40f2f6" stroke="#9494bc" stroke-width="0.7"/>
<line x1="519.28" y1="200.50" x2="519.28" y2="229.50" stroke="#a0a0c4" stroke-width="1"/>
<rect x="516.48" y="200.50" width="5.6" height="25.40" fill="#7cf814" stroke="#9494bc" stroke-width="0.7"/>
<line x1="525.60" y1="217.30" x2="525.60" y2="230.30" stroke="#a0a0c4" stroke-width="1"/>
<rect x="522.80" y="217.30" width="5.6" height="6.10" fill="#7cf814" stroke="#9494bc" stroke-width="0.7"/>
<line x1="531.93" y1="216.70" x2="531.93" y2="229.50" stroke="#a0a0c4" stroke-width="1"/>
<line x1="528.83" y1="225.50" x2="535.03" y2="225.50" stroke="#a0a0c4" stroke-width="1.6"/>
<line x1="538.25" y1="209.60" x2="538.25" y2="232.00" stroke="#a0a0c4" stroke-width="1"/>
<line x1="535.15" y1="223.80" x2="541.35" y2="223.80" stroke="#a0a0c4" stroke-width="1.6"/>
<line x1="544.57" y1="223.40" x2="544.57" y2="258.30" stroke="#a0a0c4" stroke-width="1"/>
<rect x="541.77" y="223.40" width="5.6" height="22.80" fill="#40f2f6" stroke="#9494bc" stroke-width="0.7"/>
<line x1="550.89" y1="190.40" x2="550.89" y2="220.20" stroke="#a0a0c4" stroke-width="1"/>
<rect x="548.09" y="212.70" width="5.6" height="7.50" fill="#40f2f6" stroke="#9494bc" stroke-width="0.7"/>
<line x1="557.21" y1="202.50" x2="557.21" y2="227.50" stroke="#a0a0c4" stroke-width="1"/>
<rect x="554.41" y="206.60" width="5.6" height="14.80" fill="#7cf814" stroke="#9494bc" stroke-width="0.7"/>
<line x1="563.54" y1="181.20" x2="563.54" y2="221.10" stroke="#a0a0c4" stroke-width="1"/>
<rect x="560.74" y="183.40" width="5.6" height="37.70" fill="#40f2f6" stroke="#9494bc" stroke-width="0.7"/>
<line x1="569.86" y1="177.30" x2="569.86" y2="195.10" stroke="#a0a0c4" stroke-width="1"/>
<rect x="567.06" y="182.60" width="5.6" height="2.70" fill="#40f2f6" stroke="#9494bc" stroke-width="0.7"/>
<line x1="576.18" y1="168.40" x2="576.18" y2="193.30" stroke="#a0a0c4" stroke-width="1"/>
<rect x="573.38" y="176.40" width="5.6" height="16.00" fill="#7cf814" stroke="#9494bc" stroke-width="0.7"/>
<line x1="582.50" y1="180.00" x2="582.50" y2="196.50" stroke="#a0a0c4" stroke-width="1"/>
<rect x="579.70" y="184.80" width="5.6" height="10.60" fill="#7cf814" stroke="#9494bc" stroke-width="0.7"/>
<line x1="588.82" y1="180.00" x2="588.82" y2="201.30" stroke="#a0a0c4" stroke-width="1"/>
<rect x="586.02" y="184.80" width="5.6" height="9.40" fill="#40f2f6" stroke="#9494bc" stroke-width="0.7"/>
<line x1="595.15" y1="177.30" x2="595.15" y2="188.00" stroke="#a0a0c4" stroke-width="1"/>
<rect x="592.35" y="182.60" width="5.6" height="4.50" fill="#40f2f6" stroke="#9494bc" stroke-width="0.7"/>
<line x1="601.47" y1="172.90" x2="601.47" y2="185.80" stroke="#a0a0c4" stroke-width="1"/>
<line x1="598.37" y1="182.30" x2="604.57" y2="182.30" stroke="#a0a0c4" stroke-width="1.6"/>
<line x1="607.79" y1="148.00" x2="607.79" y2="180.50" stroke="#a0a0c4" stroke-width="1"/>
<rect x="604.99" y="152.10" width="5.6" height="22.50" fill="#40f2f6" stroke="#9494bc" stroke-width="0.7"/>
<line x1="614.11" y1="138.90" x2="614.11" y2="152.40" stroke="#a0a0c4" stroke-width="1"/>
<rect x="611.31" y="146.30" width="5.6" height="6.10" fill="#40f2f6" stroke="#9494bc" stroke-width="0.7"/>
<line x1="620.43" y1="114.00" x2="620.43" y2="145.50" stroke="#a0a0c4" stroke-width="1"/>
<rect x="617.63" y="127.50" width="5.6" height="12.20" fill="#40f2f6" stroke="#9494bc" stroke-width="0.7"/>
<line x1="626.76" y1="117.00" x2="626.76" y2="135.70" stroke="#a0a0c4" stroke-width="1"/>
<rect x="623.96" y="125.50" width="5.6" height="8.30" fill="#7cf814" stroke="#9494bc" stroke-width="0.7"/>
<line x1="633.08" y1="108.20" x2="633.08" y2="136.00" stroke="#a0a0c4" stroke-width="1"/>
<rect x="630.28" y="108.20" width="5.6" height="19.00" fill="#40f2f6" stroke="#9494bc" stroke-width="0.7"/>
<line x1="639.40" y1="107.40" x2="639.40" y2="144.80" stroke="#a0a0c4" stroke-width="1"/>
<rect x="636.60" y="107.40" width="5.6" height="29.30" fill="#7cf814" stroke="#9494bc" stroke-width="0.7"/>
<line x1="645.72" y1="137.50" x2="645.72" y2="163.80" stroke="#a0a0c4" stroke-width="1"/>
<rect x="642.92" y="137.50" width="5.6" height="14.90" fill="#7cf814" stroke="#9494bc" stroke-width="0.7"/>
<line x1="652.04" y1="138.20" x2="652.04" y2="155.00" stroke="#a0a0c4" stroke-width="1"/>
<rect x="649.24" y="145.50" width="5.6" height="6.60" fill="#40f2f6" stroke="#9494bc" stroke-width="0.7"/>
<line x1="658.37" y1="128.00" x2="658.37" y2="150.40" stroke="#a0a0c4" stroke-width="1"/>
<rect x="655.57" y="134.20" width="5.6" height="16.20" fill="#40f2f6" stroke="#9494bc" stroke-width="0.7"/>
<line x1="664.69" y1="127.00" x2="664.69" y2="145.00" stroke="#a0a0c4" stroke-width="1"/>
<rect x="661.89" y="134.40" width="5.6" height="3.70" fill="#7cf814" stroke="#9494bc" stroke-width="0.7"/>
<line x1="671.01" y1="130.20" x2="671.01" y2="156.60" stroke="#a0a0c4" stroke-width="1"/>
<rect x="668.21" y="137.80" width="5.6" height="15.00" fill="#7cf814" stroke="#9494bc" stroke-width="0.7"/>
<line x1="677.33" y1="119.10" x2="677.33" y2="149.20" stroke="#a0a0c4" stroke-width="1"/>
<rect x="674.53" y="122.40" width="5.6" height="26.80" fill="#40f2f6" stroke="#9494bc" stroke-width="0.7"/>
<line x1="683.65" y1="118.10" x2="683.65" y2="139.30" stroke="#a0a0c4" stroke-width="1"/>
<rect x="680.85" y="119.10" width="5.6" height="9.20" fill="#7cf814" stroke="#9494bc" stroke-width="0.7"/>
<line x1="689.98" y1="126.10" x2="689.98" y2="140.80" stroke="#a0a0c4" stroke-width="1"/>
<rect x="687.18" y="129.80" width="5.6" height="1.90" fill="#7cf814" stroke="#9494bc" stroke-width="0.7"/>
<line x1="696.30" y1="127.30" x2="696.30" y2="154.70" stroke="#a0a0c4" stroke-width="1"/>
<rect x="693.50" y="129.30" width="5.6" height="18.00" fill="#7cf814" stroke="#9494bc" stroke-width="0.7"/>
<line x1="702.62" y1="147.80" x2="702.62" y2="172.70" stroke="#a0a0c4" stroke-width="1"/>
<rect x="699.82" y="147.80" width="5.6" height="22.20" fill="#7cf814" stroke="#9494bc" stroke-width="0.7"/>
<line x1="708.94" y1="153.90" x2="708.94" y2="169.30" stroke="#a0a0c4" stroke-width="1"/>
<rect x="706.14" y="160.50" width="5.6" height="8.80" fill="#40f2f6" stroke="#9494bc" stroke-width="0.7"/>
<line x1="715.26" y1="153.50" x2="715.26" y2="181.00" stroke="#a0a0c4" stroke-width="1"/>
<rect x="712.46" y="153.50" width="5.6" height="21.70" fill="#7cf814" stroke="#9494bc" stroke-width="0.7"/>
<line x1="721.59" y1="180.50" x2="721.59" y2="200.50" stroke="#a0a0c4" stroke-width="1"/>
<rect x="718.79" y="180.50" width="5.6" height="18.40" fill="#7cf814" stroke="#9494bc" stroke-width="0.7"/>
<line x1="727.91" y1="189.50" x2="727.91" y2="206.00" stroke="#a0a0c4" stroke-width="1"/>
<line x1="724.81" y1="197.80" x2="731.01" y2="197.80" stroke="#a0a0c4" stroke-width="1.6"/>
<line x1="734.23" y1="192.60" x2="734.23" y2="207.50" stroke="#a0a0c4" stroke-width="1"/>
<rect x="731.43" y="194.20" width="5.6" height="12.60" fill="#7cf814" stroke="#9494bc" stroke-width="0.7"/>
<line x1="740.55" y1="193.40" x2="740.55" y2="202.80" stroke="#a0a0c4" stroke-width="1"/>
<rect x="737.75" y="199.40" width="5.6" height="2.20" fill="#40f2f6" stroke="#9494bc" stroke-width="0.7"/>
<line x1="746.87" y1="194.20" x2="746.87" y2="206.80" stroke="#a0a0c4" stroke-width="1"/>
<line x1="743.77" y1="195.30" x2="749.97" y2="195.30" stroke="#a0a0c4" stroke-width="1.6"/>
<line x1="753.20" y1="187.10" x2="753.20" y2="202.80" stroke="#a0a0c4" stroke-width="1"/>
<line x1="750.10" y1="195.80" x2="756.30" y2="195.80" stroke="#a0a0c4" stroke-width="1.6"/>
<line x1="759.52" y1="170.20" x2="759.52" y2="193.80" stroke="#a0a0c4" stroke-width="1"/>
<rect x="756.72" y="170.20" width="5.6" height="21.60" fill="#40f2f6" stroke="#9494bc" stroke-width="0.7"/>
<line x1="765.84" y1="157.10" x2="765.84" y2="177.70" stroke="#a0a0c4" stroke-width="1"/>
<rect x="763.04" y="160.10" width="5.6" height="8.50" fill="#40f2f6" stroke="#9494bc" stroke-width="0.7"/>
<line x1="772.16" y1="154.30" x2="772.16" y2="163.80" stroke="#a0a0c4" stroke-width="1"/>
<rect x="769.36" y="155.40" width="5.6" height="3.00" fill="#40f2f6" stroke="#9494bc" stroke-width="0.7"/>
<line x1="778.48" y1="139.30" x2="778.48" y2="153.50" stroke="#a0a0c4" stroke-width="1"/>
<rect x="775.68" y="139.30" width="5.6" height="13.20" fill="#40f2f6" stroke="#9494bc" stroke-width="0.7"/>
<line x1="784.81" y1="138.50" x2="784.81" y2="149.10" stroke="#a0a0c4" stroke-width="1"/>
<rect x="782.01" y="138.50" width="5.6" height="1.50" fill="#7cf814" stroke="#9494bc" stroke-width="0.7"/>
<line x1="791.13" y1="137.40" x2="791.13" y2="147.70" stroke="#a0a0c4" stroke-width="1"/>
<line x1="788.03" y1="145.50" x2="794.23" y2="145.50" stroke="#a0a0c4" stroke-width="1.6"/>
<line x1="797.45" y1="131.60" x2="797.45" y2="150.60" stroke="#a0a0c4" stroke-width="1"/>
<rect x="794.65" y="142.60" width="5.6" height="4.60" fill="#40f2f6" stroke="#9494bc" stroke-width="0.7"/>
<line x1="803.77" y1="138.20" x2="803.77" y2="186.20" stroke="#a0a0c4" stroke-width="1"/>
<rect x="800.97" y="138.20" width="5.6" height="47.50" fill="#7cf814" stroke="#9494bc" stroke-width="0.7"/>
<polyline points="4.0,107.4 13.7,106.6 29.7,107.4 43.9,116.3 56.3,126.1 67.0,130.6 71.1,133.2 81.8,142.6 105.8,142.6 117.3,135.9 131.0,132.3 153.1,133.6 160.0,133.5 172.5,132.4 184.0,130.5 194.5,125.3 207.0,115.9 220.0,108.9 235.7,102.6 251.4,97.9 264.0,93.2 273.4,88.5 282.8,83.0 292.2,75.1 301.6,69.6 311.0,66.5 320.0,65.2 330.0,63.2 342.6,62.9 357.6,64.4 365.1,66.3 382.7,68.2 395.3,80.8 401.5,83.9 420.0,100.2 437.7,112.6 454.4,128.5 461.4,134.5 469.0,143.5 480.0,152.6 500.0,167.0 505.0,170.2 509.2,173.1 527.4,178.2 547.7,188.3 559.9,193.4 567.0,196.4 584.0,202.4 594.0,202.0 604.0,201.1 619.8,194.5 629.7,189.5 643.7,181.6 659.6,173.6 669.5,165.7 677.5,161.7 687.4,154.8 700.0,148.4 706.8,147.0 716.3,146.1 727.2,147.7 739.5,153.1 749.0,157.2 760.0,162.0 763.4,164.3" fill="none" stroke="#58b0f0" stroke-width="1.1" stroke-linejoin="round"/>
<line x1="764" y1="164.5" x2="802" y2="164.5" stroke="#58b0f0" stroke-width="1.2"/>
<polyline points="4.0,131.4 10.1,141.2 17.2,151.5 22.6,149.8 33.2,148.0 43.9,150.1 51.0,147.4 56.3,142.1 65.3,133.1 76.2,131.0 94.5,135.8 104.9,133.2 117.3,127.0 124.4,131.4 131.0,132.3 149.3,130.1 160.0,131.1 166.3,133.2 172.5,134.9 182.0,134.9 187.2,129.0 194.5,121.1 200.8,112.8 207.0,103.4 213.3,95.0 220.0,86.9 229.4,78.3 235.7,71.2 243.5,69.2 251.4,70.7 260.8,73.5 270.2,78.3 276.5,81.4 285.9,79.0 295.4,73.5 307.9,66.5 320.0,57.1 326.5,53.3 340.9,43.7 351.3,50.0 357.6,53.8 363.9,61.3 370.2,65.7 376.4,71.3 382.7,80.1 389.0,93.9 395.3,109.0 402.8,125.0 408.6,135.0 420.0,145.5 429.4,150.2 438.8,155.4 448.2,162.5 459.5,152.1 467.1,156.4 480.0,163.4 505.0,180.5 517.3,189.3 523.4,197.5 537.6,203.5 549.7,212.7 557.9,214.7 567.0,213.7 579.5,211.1 600.0,199.5 609.9,187.6 621.8,171.7 629.7,165.7 645.4,152.1 655.6,144.8 667.3,137.1 667.4,137.5 682.0,135.2 693.7,135.6 700.0,138.4 705.4,142.2 713.6,144.3 720.4,148.4 728.6,155.9 736.7,162.7 743.5,170.8 751.7,179.0 757.1,185.1 763.3,187.1 770.3,187.2 775.5,184.2 787.2,176.9 800.3,165.2" fill="none" stroke="#e0987a" stroke-width="1.1" stroke-linejoin="round"/>
<defs><linearGradient id="ag" x1="0" y1="0" x2="0.6" y2="1"><stop offset="0" stop-color="#ffffb0"/><stop offset="0.35" stop-color="#ffe848"/><stop offset="1" stop-color="#e0a800"/></linearGradient></defs>
<polygon points="800.6,169 806.6,179 803.8,179 803.8,191.5 797.4,191.5 797.4,179 793,179" fill="url(#ag)" stroke="#806000" stroke-width="0.4"/>
<line x1="811" y1="12.50" x2="814" y2="12.50" stroke="#d0d0d0" stroke-width="1"/>
<line x1="811" y1="32.50" x2="814" y2="32.50" stroke="#d0d0d0" stroke-width="1"/>
<line x1="811" y1="51.50" x2="814" y2="51.50" stroke="#d0d0d0" stroke-width="1"/>
<line x1="811" y1="71.50" x2="814" y2="71.50" stroke="#d0d0d0" stroke-width="1"/>
<line x1="811" y1="90.50" x2="814" y2="90.50" stroke="#d0d0d0" stroke-width="1"/>
<line x1="811" y1="110.50" x2="814" y2="110.50" stroke="#d0d0d0" stroke-width="1"/>
<line x1="811" y1="129.50" x2="814" y2="129.50" stroke="#d0d0d0" stroke-width="1"/>
<line x1="811" y1="149.50" x2="814" y2="149.50" stroke="#d0d0d0" stroke-width="1"/>
<line x1="811" y1="168.50" x2="814" y2="168.50" stroke="#d0d0d0" stroke-width="1"/>
<line x1="811" y1="188.50" x2="814" y2="188.50" stroke="#d0d0d0" stroke-width="1"/>
<line x1="811" y1="207.50" x2="814" y2="207.50" stroke="#d0d0d0" stroke-width="1"/>
<line x1="811" y1="227.50" x2="814" y2="227.50" stroke="#d0d0d0" stroke-width="1"/>
<line x1="811" y1="246.50" x2="814" y2="246.50" stroke="#d0d0d0" stroke-width="1"/>
<line x1="811" y1="266.50" x2="814" y2="266.50" stroke="#d0d0d0" stroke-width="1"/>
<line x1="811" y1="285.50" x2="814" y2="285.50" stroke="#d0d0d0" stroke-width="1"/>
<line x1="811" y1="305.50" x2="814" y2="305.50" stroke="#d0d0d0" stroke-width="1"/>
<line x1="811" y1="341.50" x2="814" y2="341.50" stroke="#d0d0d0" stroke-width="1"/>
<line x1="811" y1="363.50" x2="814" y2="363.50" stroke="#d0d0d0" stroke-width="1"/>
<line x1="811" y1="386.50" x2="814" y2="386.50" stroke="#d0d0d0" stroke-width="1"/>
<line x1="811" y1="408.50" x2="814" y2="408.50" stroke="#d0d0d0" stroke-width="1"/>
<line x1="811" y1="430.50" x2="814" y2="430.50" stroke="#d0d0d0" stroke-width="1"/>
<line x1="89.5" y1="447" x2="89.5" y2="450" stroke="#c0c0c0" stroke-width="1"/>
<line x1="229.5" y1="447" x2="229.5" y2="450" stroke="#c0c0c0" stroke-width="1"/>
<line x1="363.5" y1="447" x2="363.5" y2="450" stroke="#c0c0c0" stroke-width="1"/>
<line x1="504.5" y1="447" x2="504.5" y2="450" stroke="#c0c0c0" stroke-width="1"/>
<line x1="632.5" y1="447" x2="632.5" y2="450" stroke="#c0c0c0" stroke-width="1"/>
<line x1="759.5" y1="447" x2="759.5" y2="450" stroke="#c0c0c0" stroke-width="1"/>
</svg>
<div class="yl" style="top:6.0px">150</div>
<div class="yl" style="top:25.9px">147.5</div>
<div class="yl" style="top:45.0px">145</div>
<div class="yl" style="top:65.0px">142.5</div>
<div class="yl" style="top:84.0px">140</div>
<div class="yl" style="top:104.0px">137.5</div>
<div class="yl" style="top:123.0px">135</div>
<div class="yl" style="top:142.9px">132.5</div>
<div class="yl" style="top:161.9px">130</div>
<div class="yl" style="top:181.9px">127.5</div>
<div class="yl" style="top:200.9px">125</div>
<div class="yl" style="top:220.9px">122.5</div>
<div class="yl" style="top:239.9px">120</div>
<div class="yl" style="top:259.9px">117.5</div>
<div class="yl" style="top:278.9px">115</div>
<div class="yl" style="top:298.9px">112.5</div>
<div class="yl" style="top:334.9px">2.5K</div>
<div class="yl" style="top:356.9px">2K</div>
<div class="yl" style="top:379.9px">1.5K</div>
<div class="yl" style="top:401.9px">1K</div>
<div class="yl" style="top:423.9px">500</div>
<div class="xl" style="left:48.9px">2-7-25</div>
<div class="xl" style="left:190.2px">1-8-25</div>
<div class="xl" style="left:323.3px">1-9-25</div>
<div class="xl" style="left:464.1px">2-10-25</div>
<div class="xl" style="left:592.5px">3-11-25</div>
<div class="xl" style="left:718.9px">1-12-25</div>
<div class="cp">Copyright by AASTOCKS.com Ltd.</div>
</body></html>
